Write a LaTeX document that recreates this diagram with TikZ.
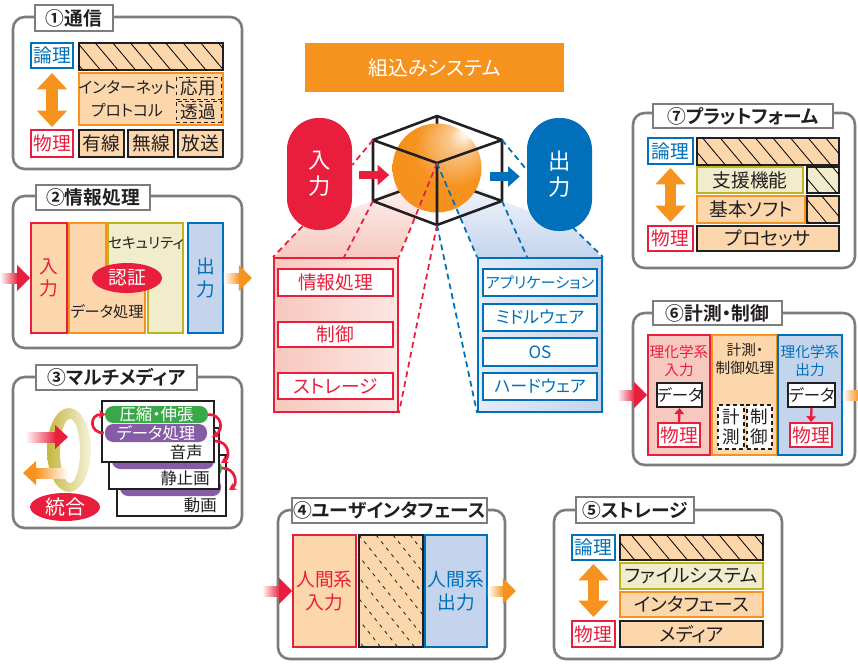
\documentclass[tikz,border=0pt]{standalone}
\usepackage{fontspec}
\setmainfont{Noto Sans CJK JP}[BoldFont={Noto Sans CJK JP Bold},RawFeature=+palt]
\definecolor{jred}{RGB}{233,30,60}
\definecolor{jblue}{RGB}{0,112,186}
\definecolor{jorange}{RGB}{246,146,30}
\definecolor{jdeep}{RGB}{232,118,14}
\definecolor{jolive}{RGB}{190,180,30}
\definecolor{jgreen}{RGB}{58,168,72}
\definecolor{jpurple}{RGB}{134,92,164}
\definecolor{lorange}{RGB}{252,215,172}
\definecolor{lyellow}{RGB}{241,237,204}
\definecolor{lblue}{RGB}{196,212,237}
\definecolor{lpink}{RGB}{247,200,190}
\definecolor{pgray}{RGB}{125,125,125}
\definecolor{ink}{RGB}{35,31,32}
\definecolor{ringdk}{RGB}{196,184,64}
\definecolor{ringlt}{RGB}{246,243,222}
\usetikzlibrary{arrows.meta, positioning, calc, shapes.geometric, patterns.meta}

\pgfdeclareradialshading{orb}{\pgfpoint{16bp}{20bp}}{color(0bp)=(white); color(7bp)=(white!50!jorange); color(22bp)=(jorange); color(40bp)=(jorange!90!jdeep); color(50bp)=(jdeep)}

\tikzset{
  inarr/.pic={\shade[left color=white, right color=jred] (-30,-5) rectangle (-12,5);
    \fill[jred] (-13,-13) -- (0,0) -- (-13,13) -- cycle;},
  outarr/.pic={\shade[left color=white, right color=jorange] (0,-5) rectangle (16,5);
    \fill[jorange] (15,-13) -- (28,0) -- (15,13) -- cycle;}
}

\begin{document}
\begin{tikzpicture}[x=0.03cm, y=-0.03cm,
  cell/.style n args={4}{at={({(#1+#3)/2},{(#2+#4)/2})},
                         minimum width={(#3-#1)*0.03cm}, minimum height={(#4-#2)*0.03cm}},
  panel/.style={draw=pgray, line width=2.2pt, rounded corners=10pt},
  ptitle/.style={draw=pgray, line width=1.8pt, fill=white, inner sep=0pt, text=ink,
                 font=\bfseries\fontsize{16}{16}\selectfont},
  tag/.style={fill=white, line width=1.6pt, inner sep=0pt, font=\fontsize{16}{16}\selectfont},
  logic/.style={tag, draw=jblue, text=jblue},
  phys/.style={tag, draw=jred, text=jred},
  kbox/.style={draw=ink, line width=1.8pt, fill=lorange, inner sep=0pt, text=ink,
               font=\fontsize{16}{16}\selectfont},
  obox/.style={draw=jorange, line width=1.6pt, fill=lorange, inner sep=0pt, text=ink,
               font=\fontsize{16}{16}\selectfont},
  ybox/.style={draw=jolive, line width=1.6pt, fill=lyellow, inner sep=0pt, text=ink,
               font=\fontsize{16}{16}\selectfont},
  hatch/.style={kbox, postaction={pattern={Lines[angle=-50,distance=11.5pt,line width=0.7pt]}}},
  hatchy/.style={hatch, fill=lyellow},
  dbox/.style={draw=ink, dashed, line width=0.8pt, fill=lorange, inner sep=0pt, text=ink,
               font=\fontsize{15}{15}\selectfont},
  wbox/.style={draw=ink, line width=1.8pt, fill=white, inner sep=0pt, text=ink,
               font=\fontsize{14}{14}\selectfont},
  wdash/.style={draw=ink, dashed, line width=1pt, fill=white, inner sep=0pt, text=ink,
                align=center, font=\fontsize{15}{17}\selectfont},
  rcol/.style={draw=jred, line width=1.6pt, fill=lorange, inner sep=0pt, text=jred,
               align=center, font=\fontsize{16}{19}\selectfont},
  bcol/.style={rcol, draw=jblue, fill=lblue, text=jblue},
  lbl/.style={inner sep=0pt, text=ink, font=\fontsize{14}{14}\selectfont},
  card/.style={draw=ink, line width=1.6pt, fill=white, inner sep=0pt},
  gpill/.style={fill=jgreen, rounded corners=7pt, inner sep=0pt, text=white,
                font=\fontsize{14}{14}\selectfont},
  ppill/.style={gpill, fill=jpurple},
  blob/.style={ellipse, fill=jred, inner sep=0pt, text=white},
  curl/.style={draw=jred, line width=2.3pt, -{Stealth[length=6pt,width=7pt]}},
  pill/.style={rounded corners=27pt, inner sep=0pt, text=white, align=center,
               font=\fontsize{19}{22}\selectfont},
  rdash/.style={draw=jred, line width=1.5pt, dash pattern=on 5pt off 3.5pt},
  bdash/.style={rdash, draw=jblue},
  cube/.style={draw=ink, line width=2.2pt, line join=round},
  fatarr/.style={line width=7.5pt, -{Triangle[length=10pt,width=17pt]}},
  dblarr/.style={draw=jorange, line width=10pt,
                 {Triangle[length=14pt,width=25pt]}-{Triangle[length=14pt,width=25pt]}},
  smallarr/.style={draw=jred, line width=2pt, -{Triangle[length=5pt,width=8pt]}}]

\fill[white] (0,0) rectangle (858,663);
\useasboundingbox (0,0) rectangle (858,663);

% (1) communication
\draw[panel] (13,17) rectangle (242,169);
\node[ptitle, cell={35}{5}{113}{31}] (t1) {①通信};
\node[logic, cell={31}{43}{73}{68}] (lg1) {論理};
\node[hatch, cell={79}{43}{223}{70}] (hb1) {};
\node[obox, cell={79}{73}{223}{125}] (ip1) {};
\node[lbl, align=center, font=\fontsize{13.5}{20}\selectfont] (ipt1) at (127,99) {インターネット\\プロトコル};
\node[dbox, cell={176}{77}{221}{99}] (ap1) {応用};
\node[dbox, cell={176}{101}{221}{122}] (tp1) {透過};
\node[phys, cell={31}{130}{73}{157}] (ph1) {物理};
\node[kbox, cell={79}{130}{124}{157}] (wd1) {有線};
\node[kbox, cell={128}{130}{174}{157}] (wl1) {無線};
\node[kbox, cell={178}{130}{223}{157}] (bc1) {放送};
\draw[dblarr] ($(lg1.south)+(0,4)$) -- ($(ph1.north)+(0,-2)$);

% (2) information processing
\draw[panel] (13,196) rectangle (242,348);
\node[ptitle, cell={36}{185}{150}{210}] (t2) {②情報処理};
\node[rcol, cell={31}{223}{67}{333}] (in2) {入\\力};
\draw[obox] (69,223) -- (106,223) -- (106,285) -- (145,285) -- (145,333) -- (69,333) -- cycle;
\draw[ybox] (108,223) -- (183,223) -- (183,333) -- (148,333) -- (148,285) -- (108,285) -- cycle;
\node[lbl, font=\fontsize{12.5}{12.5}\selectfont] (sec2) at (146,243) {セキュリティ};
\node[lbl, font=\fontsize{13}{13}\selectfont] (dp2) at (107,312) {データ処理};
\node[blob, minimum width=70*0.03cm, minimum height=30*0.03cm,
      font=\fontsize{16}{16}\selectfont] (au2) at (127,278) {認証};
\node[bcol, cell={188}{223}{223}{333}] (out2) {出\\力};
\pic at (in2.west) {inarr};
\pic at (out2.east) {outarr};

% (3) multimedia
\draw[panel] (13,377) rectangle (242,528);
\node[ptitle, cell={36}{365}{197}{390}] (t3) {③マルチメディア};
\shade[left color=ringdk, right color=ringlt, even odd rule]
  (69,450) ellipse [x radius=22, y radius=42] (70,451) ellipse [x radius=10, y radius=32];
\shade[left color=white, right color=jred] (25,432) rectangle (56,442);
\fill[jred] (55,425) -- (68,437) -- (55,449) -- cycle;
\fill[jorange] (23,473) -- (36,461) -- (36,485) -- cycle;
\shade[left color=jorange, right color=white] (35,468) rectangle (68,478);
\node[blob, minimum width=70*0.03cm, minimum height=28*0.03cm,
      font=\fontsize{17}{17}\selectfont] (mix3) at (65,507) {統合};
% stacked cards, back to front
\node[card, cell={117}{455}{226}{516}] (c3) {};
\node[gpill, cell={120}{460}{222}{477}] (g3) {};
\node[ppill, cell={120}{478}{221}{496}] (p3) {};
\node[lbl, anchor=east] (m3) at (217,505) {動画};
\node[card, cell={109}{428}{219}{489}] (c2) {};
\node[gpill, cell={112}{433}{215}{450}] (g2) {};
\node[ppill, cell={112}{451}{214}{469}] (p2) {};
\node[lbl, anchor=east] (m2) at (210,478) {静止画};
\node[card, cell={102}{401}{214}{462}] (c1) {};
\node[gpill, cell={105}{406}{208}{423}] (g1) {圧縮・伸張};
\node[ppill, cell={105}{424}{207}{442}] (p1) {データ処理};
\node[lbl, anchor=east] (m1) at (203,452) {音声};
\draw[curl] ($(p1.west)+(-1,0)$) .. controls (89,433) and (89,414) .. ($(g1.west)+(1,0)$);
\draw[curl] (g1.east) .. controls (222,414) and (224,430) .. (212,437);
\draw[curl] (215,441) .. controls (229,441) and (231,457) .. (221,463);
\draw[curl] (222,468) .. controls (236,468) and (238,484) .. (229,490);

% embedded system in the middle
\node[fill=jorange, inner sep=0pt, text=white, font=\fontsize{17}{17}\selectfont,
      cell={305}{43}{564}{92}] (emb) {組込みシステム};

\shade[top color=white, bottom color=lpink] (274,258) -- (300,228) -- (373,201) -- (437,163) -- (398,258) -- cycle;
\shade[top color=white, bottom color=lblue] (478,258) -- (437,163) -- (502,201) -- (573,227) -- (602,258) -- cycle;

\node[draw=jred, line width=1.6pt, left color=lpink, right color=lpink!45, inner sep=0pt,
      cell={274}{258}{398}{412}] (lbx) {};
\node[draw=jblue, line width=1.6pt, left color=lblue!45, right color=lblue, inner sep=0pt,
      cell={478}{258}{602}{412}] (rbx) {};
\node[phys, cell={278}{269}{393}{296}] (hw1) {情報処理};
\node[phys, cell={278}{322}{393}{347}] (hw2) {制御};
\node[phys, cell={278}{373}{393}{399}] (hw3) {ストレージ};
\node[logic, font=\fontsize{13}{13}\selectfont, cell={483}{269}{597}{296}] (sw1) {アプリケーション};
\node[logic, font=\fontsize{14.5}{14.5}\selectfont, cell={483}{304}{597}{331}] (sw2) {ミドルウェア};
\node[logic, font=\fontsize{14.5}{14.5}\selectfont, cell={483}{338}{597}{366}] (sw3) {OS};
\node[logic, font=\fontsize{14.5}{14.5}\selectfont, cell={483}{373}{597}{400}] (sw4) {ハードウェア};

\node[pill, fill=jred, cell={287}{118}{352}{230}] (inp) {入\\力};
\node[pill, fill=jblue, cell={527}{118}{592}{231}] (outp) {出\\力};

% cube around the core
\coordinate (ctop) at (437,116);
\coordinate (cul) at (373,140);
\coordinate (cur) at (502,140);
\coordinate (cll) at (373,201);
\coordinate (clr) at (502,201);
\coordinate (cbot) at (437,225);
\coordinate (cfr) at (437,163);
\coordinate (cbk) at (437,178);
\draw[cube] (cbk) -- (cll) (cbk) -- (clr) (cbk) -- (ctop);
\shade[shading=orb] (437,168) circle [radius=44.5];
\draw[cube] (ctop) -- (cur) -- (clr) -- (cbot) -- (cll) -- (cul) -- cycle;
\draw[cube] (cul) -- (cfr) -- (cur) (cfr) -- (cbot);

% projection lines
\draw[rdash] (cul) -- (inp.east |- 0,165);
\draw[rdash] ($(inp.south)+(-17,-4)$) -- (lbx.north west);
\draw[rdash] (cll) -- ($(lbx.north west)+(71,0)$);
\draw[rdash] (cfr) -- (lbx.north east);
\draw[rdash] (cbot) -- (lbx.south east);
\draw[bdash] (cur) -- (outp.west |- 0,170);
\draw[bdash] (cfr) -- (rbx.north west);
\draw[bdash] (cbot) -- (rbx.south west);
\draw[bdash] (clr) -- ($(rbx.north west)+(50,0)$);
\draw[bdash] ($(outp.south)+(13,-4)$) -- (rbx.north east);

\draw[fatarr, jred] ($(inp.east)+(7,1)$) -- ++(30,0);
\draw[fatarr, jblue] ($(outp.west)+(-37,2)$) -- ++(30,0);

% (7) platform
\draw[panel] (633,113) rectangle (855,268);
\node[ptitle, cell={653}{104}{833}{128}] (t7) {⑦プラットフォーム};
\node[logic, cell={648}{138}{693}{164}] (lg7) {論理};
\node[hatch, cell={697}{138}{839}{165}] (hb7) {};
\node[ybox, cell={697}{167}{803}{193}] (sp7) {支援機能};
\node[hatchy, cell={807}{167}{839}{193}] (sh7) {};
\node[obox, cell={697}{196}{805}{223}] (bs7) {基本ソフト};
\node[hatch, cell={807}{196}{839}{223}] (bh7) {};
\node[phys, cell={648}{226}{693}{251}] (ph7) {物理};
\node[kbox, cell={697}{226}{839}{251}] (pr7) {プロセッサ};
\draw[dblarr] ($(lg7.south)+(0,3)$) -- ($(ph7.north)+(0,-3)$);

% (6) measurement and control
\draw[panel] (633,313) rectangle (855,465);
\node[ptitle, cell={653}{301}{782}{325}] (t6) {⑥計測・制御};
\node[draw=jred, line width=1.6pt, fill=lpink, inner sep=0pt, cell={648}{335}{710}{455}] (cl6) {};
\node[draw=jorange, line width=1.6pt, fill=lorange, inner sep=0pt, cell={712}{335}{777}{455}] (cm6) {};
\node[draw=jblue, line width=1.6pt, fill=lblue, inner sep=0pt, cell={778}{335}{842}{455}] (cr6) {};
\node[lbl, text=jred, align=center, font=\fontsize{12.5}{15.5}\selectfont] (rl6) at (679,361) {理化学系\\入力};
\node[lbl, align=center, font=\fontsize{12.5}{15.5}\selectfont] (rm6) at (745,359) {計測・\\制御処理};
\node[lbl, text=jblue, align=center, font=\fontsize{12.5}{15.5}\selectfont] (rr6) at (810,361) {理化学系\\出力};
\node[wbox, cell={657}{383}{702}{407}] (dl6) {データ};
\node[phys, cell={658}{423}{700}{447}] (pl6) {物理};
\node[wbox, cell={788}{383}{835}{407}] (dr6) {データ};
\node[phys, cell={790}{423}{832}{447}] (pr6) {物理};
\node[wdash, cell={718}{405}{744}{449}] (ms6) {計\\測};
\node[wdash, cell={747}{405}{772}{449}] (ct6) {制\\御};
\draw[smallarr] (pl6.north) -- (dl6.south);
\draw[smallarr] (dr6.south) -- (pr6.north);
\pic at (cl6.west |- dl6) {inarr};
\pic at (cr6.east |- dr6) {outarr};

% (4) user interface
\draw[panel] (278,510) rectangle (505,659);
\node[ptitle, cell={292}{498}{487}{523}] (t4) {④ユーザインタフェース};
\node[rcol, cell={293}{535}{356}{647}] (hi4) {人間系\\入力};
\node[kbox, cell={359}{535}{423}{647}] (ui4) {};
\begin{scope}
  \clip (ui4.south west) rectangle (ui4.north east);
  \foreach \k in {-7,...,4}
    \draw[ink, line width=0.7pt, dash pattern=on 3pt off 4pt] ({359+\k*17},535) -- ++(100,125);
\end{scope}
\node[bcol, cell={425}{535}{487}{647}] (ho4) {人間系\\出力};
\pic at (hi4.west) {inarr};
\pic at (ho4.east) {outarr};

% (5) storage
\draw[panel] (554,510) rectangle (782,659);
\node[ptitle, cell={576}{497}{694}{523}] (t5) {⑤ストレージ};
\node[logic, cell={572}{535}{615}{560}] (lg5) {論理};
\node[hatch, cell={620}{535}{763}{560}] (hb5) {};
\node[ybox, cell={620}{563}{763}{589}] (fs5) {ファイルシステム};
\node[obox, cell={620}{592}{763}{617}] (if5) {インタフェース};
\node[kbox, cell={620}{621}{763}{647}] (md5) {メディア};
\node[phys, cell={572}{621}{615}{647}] (ph5) {物理};
\draw[dblarr] ($(lg5.south)+(0,3)$) -- ($(ph5.north)+(0,-3)$);

\end{tikzpicture}
\end{document}
